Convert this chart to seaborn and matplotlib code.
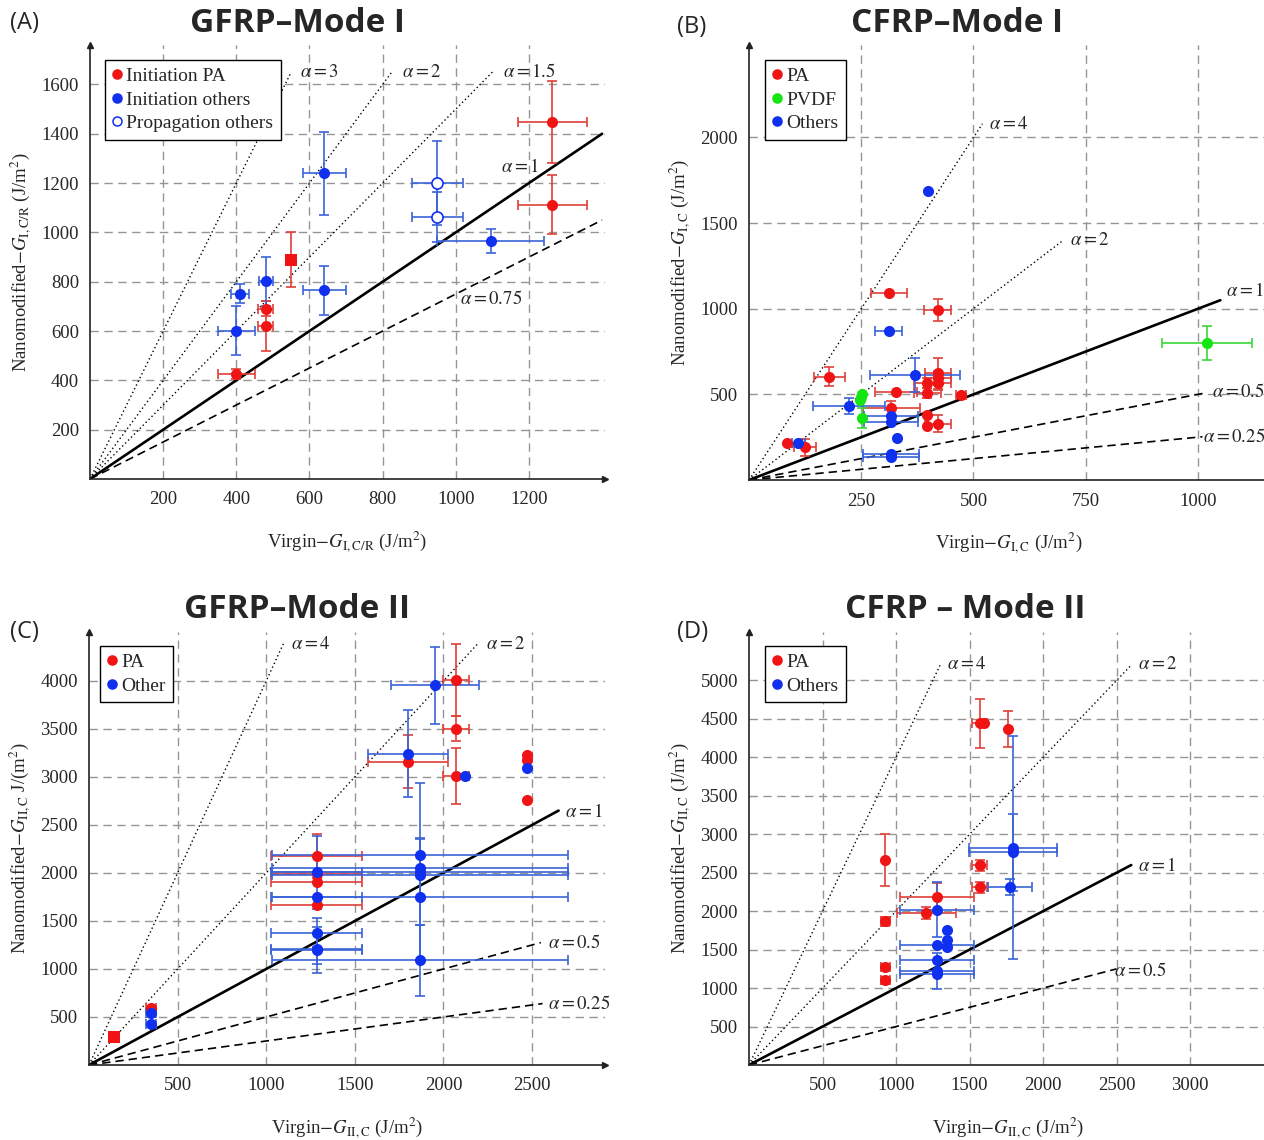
import numpy as np
import matplotlib
matplotlib.use("Agg")
import matplotlib.pyplot as plt
from matplotlib.lines import Line2D
import seaborn as sns

# ---------------- data ----------------
# (A) GFRP - Mode I
a_pa_x = [400, 480, 480, 1264, 1264]
a_pa_y = [425, 690, 620, 1447, 1112]
a_pa_xerr = [50, 20, 20, 95, 95]
a_pa_yerr = [20, 30, 100, 165, 120]
a_pa_sq_x = [550]
a_pa_sq_y = [890]
a_pa_sq_yerr = [110]
a_in_x = [410, 400, 481, 641, 641, 1095]
a_in_y = [751, 601, 801, 1239, 765, 965]
a_in_xerr = [25, 50, 20, 60, 60, 146]
a_in_yerr = [38, 100, 100, 170, 100, 50]
a_pr_x = [950, 950]
a_pr_y = [1200, 1062]
a_pr_xerr = [70, 70]
a_pr_yerr = [170, 100]
a_alpha = [3, 2, 1.5, 1, 0.75]
a_alpha_xend = [550, 825, 1100, 1400, 1400]

# (B) CFRP - Mode I
b_pa_x = [85, 125, 179, 311, 420, 328, 317, 397, 397, 421, 421, 421, 472, 397, 397, 421]
b_pa_y = [215, 191, 604, 1091, 994, 516, 421, 565, 510, 624, 594, 565, 496, 378, 315, 329]
b_pa_xerr = [0, 25, 35, 40, 30, 47, 64, 30, 30, 30, 30, 30, 12, 0, 0, 30]
b_pa_yerr = [0, 50, 55, 0, 65, 0, 40, 30, 30, 90, 40, 40, 0, 0, 0, 50]
b_pv_x = [252, 250, 248, 251, 1021]
b_pv_y = [505, 485, 465, 362, 799]
b_pv_xerr = [0, 0, 0, 0, 100]
b_pv_yerr = [0, 0, 0, 60, 100]
b_ot_x = [110, 223, 311, 398, 370, 317, 317, 330, 317, 317]
b_ot_y = [215, 431, 870, 1687, 614, 372, 339, 244, 152, 136]
b_ot_xerr = [15, 80, 30, 0, 100, 60, 60, 0, 62, 62]
b_ot_yerr = [0, 45, 0, 0, 100, 0, 0, 0, 0, 0]
b_alpha = [4, 2, 1, 0.5, 0.25]
b_alpha_xend = [520, 700, 1050, 1010, 1010]

# (C) GFRP - Mode II
c_pa_sq_x = [142]
c_pa_sq_y = [289]
c_pa_x = [350, 1285, 1285, 1285, 1285, 2071, 2071, 2071, 1801, 2469, 2469, 2469]
c_pa_y = [590, 2178, 1986, 1902, 1662, 4010, 3500, 3007, 3157, 3233, 3174, 2756]
c_pa_xerr = [30, 257, 257, 257, 257, 72, 72, 72, 225, 0, 0, 0]
c_pa_yerr = [20, 230, 0, 0, 0, 370, 130, 290, 275, 0, 0, 0]
c_ot_x = [350, 350, 1285, 1285, 1285, 1285, 1285, 1869, 1869, 1869, 1869, 1869, 1869,
          2120, 1801, 1953, 2469]
c_ot_y = [540, 429, 2010, 1749, 1380, 1213, 1195, 2185, 2052, 2014, 1979, 1753, 1091,
          3007, 3244, 3955, 3094]
c_ot_xerr = [30, 30, 257, 257, 257, 257, 257, 835, 835, 835, 835, 835, 835,
             0, 225, 248, 0]
c_ot_yerr = [0, 0, 380, 0, 150, 160, 240, 180, 300, 920, 0, 300, 370,
             0, 450, 400, 0]
c_alpha = [4, 2, 1, 0.5, 0.25]
c_alpha_xend = [1100, 2200, 2650, 2550, 2560]

# (D) CFRP - Mode II
d_pa_x = [1570, 1595, 1764, 928, 928, 928, 928, 1570, 1570, 1277, 1205]
d_pa_y = [4442, 4450, 4366, 2669, 1869, 1272, 1099, 2595, 2310, 2180, 1972]
d_pa_xerr = [50, 0, 0, 0, 30, 30, 30, 50, 50, 250, 200]
d_pa_yerr = [320, 0, 235, 340, 60, 40, 40, 70, 70, 190, 80]
d_ot_x = [1277, 1345, 1345, 1345, 1277, 1277, 1277, 1277, 1795, 1795, 1773]
d_ot_y = [2020, 1760, 1631, 1531, 1557, 1371, 1220, 1185, 2823, 2766, 2314]
d_ot_xerr = [250, 0, 0, 0, 250, 250, 250, 250, 300, 300, 150]
d_ot_yerr = [360, 0, 0, 0, 0, 0, 230, 0, 1450, 500, 110]
d_alpha = [4, 2, 1, 0.5]
d_alpha_xend = [1300, 2600, 2600, 2500]

# ---------------- style ----------------
sns.set_theme(style="white")
plt.rcParams["font.family"] = ["Liberation Serif", "DejaVu Serif"]
plt.rcParams["mathtext.fontset"] = "stix"
plt.rcParams["font.size"] = 13.5

RED, RED_E = "#f01414", "#e0403a"
BLUE, BLUE_E = "#1030f0", "#3a64d8"
GREEN, GREEN_E = "#14e614", "#3ad83a"

fig = plt.figure(figsize=(12.64, 11.4), dpi=100)
W, H = 1264, 1140


def add_ax(x0, y0, x1, y1):
    return fig.add_axes([x0 / W, 1 - y1 / H, (x1 - x0) / W, (y1 - y0) / H])


def style_ax(ax, xlim, ylim, xticks, yticks, xlabel, ylabel):
    ax.set_xlim(*xlim)
    ax.set_ylim(*ylim)
    ax.set_xticks(xticks)
    ax.set_yticks(yticks)
    ax.grid(True, color="#959595", linestyle=(0, (6, 4)), linewidth=1.0)
    ax.set_axisbelow(True)
    for s in ["top", "right"]:
        ax.spines[s].set_visible(False)
    for s in ["left", "bottom"]:
        ax.spines[s].set_color("#222222")
        ax.spines[s].set_linewidth(1.2)
    ax.plot(1, 0, ">", color="#222222", ms=5, transform=ax.get_yaxis_transform(), clip_on=False)
    ax.plot(0, 1, "^", color="#222222", ms=5, transform=ax.get_xaxis_transform(), clip_on=False)
    ax.tick_params(axis="both", length=0, labelsize=13.5)
    ax.tick_params(axis="x", pad=9)
    ax.tick_params(axis="y", pad=8)
    ax.set_xlabel(xlabel, fontsize=13.5, labelpad=15)
    ax.set_ylabel(ylabel, fontsize=13.5, labelpad=6)


def errs(ax, x, y, xerr, yerr, ecolor):
    x, y, xerr, yerr = map(np.asarray, (x, y, xerr, yerr))
    m = xerr > 0
    if m.any():
        ax.errorbar(x[m], y[m], xerr=xerr[m], fmt="none", ecolor=ecolor,
                    elinewidth=1.2, capsize=3.8, capthick=1.2, zorder=3)
    m = yerr > 0
    if m.any():
        ax.errorbar(x[m], y[m], yerr=yerr[m], fmt="none", ecolor=ecolor,
                    elinewidth=1.2, capsize=3.8, capthick=1.2, zorder=3)


def pts(ax, x, y, color, marker="o", face=None):
    sns.scatterplot(x=x, y=y, ax=ax, color=face or color, marker=marker, s=64,
                    edgecolor=color, linewidth=1.2 if face else 0, zorder=4)


def alpha_lines(ax, alphas, xends, labels):
    for a, xe, lab in zip(alphas, xends, labels):
        if a == 1:
            ls, lw = "-", 1.9
        elif a > 1:
            ls, lw = (0, (1, 2)), 1.0
        else:
            ls, lw = (0, (5, 3)), 1.2
        sns.lineplot(x=[0, xe], y=[0, a * xe], ax=ax, color="black", linestyle=ls,
                     linewidth=lw, sort=False, estimator=None, zorder=2)
        ax.text(lab[0], lab[1], r"$\alpha = %g$" % a, fontsize=13.5, ha="left",
                va="center", zorder=5)


def legend(ax, entries, anchor):
    handles = []
    for lab, c, face in entries:
        handles.append(Line2D([], [], marker="o", linestyle="none", markersize=6.5,
                              markerfacecolor=face, markeredgecolor=c,
                              markeredgewidth=1.1, label=lab))
    lg = ax.legend(handles=handles, loc="upper left", bbox_to_anchor=anchor,
                   frameon=True, fancybox=False, edgecolor="black", framealpha=1,
                   handlelength=0.4, handletextpad=0.3, borderpad=0.4,
                   labelspacing=0.3, borderaxespad=0, fontsize=14)
    lg.get_frame().set_linewidth(1.0)
    lg.set_zorder(10)


# ---------------- (A) ----------------
ax = add_ax(90, 45, 605, 479)
style_ax(ax, (0, 1408), (0, 1760), range(200, 1201, 200), range(200, 1601, 200),
         r"Virgin$-G_{\mathrm{I,C/R}}$ (J/m$^2$)",
         r"Nanomodified$-G_{\mathrm{I,C/R}}$ (J/m$^2$)")
alpha_lines(ax, a_alpha, a_alpha_xend,
            [(573, 1650), (852, 1650), (1129, 1650), (1124, 1265), (1011, 730)])
errs(ax, a_pa_x, a_pa_y, a_pa_xerr, a_pa_yerr, RED_E)
errs(ax, a_pa_sq_x, a_pa_sq_y, [0], a_pa_sq_yerr, RED_E)
errs(ax, a_in_x, a_in_y, a_in_xerr, a_in_yerr, BLUE_E)
errs(ax, a_pr_x, a_pr_y, a_pr_xerr, a_pr_yerr, BLUE_E)
pts(ax, a_pa_x, a_pa_y, RED)
pts(ax, a_pa_sq_x, a_pa_sq_y, RED, marker="s")
pts(ax, a_in_x, a_in_y, BLUE)
pts(ax, a_pr_x, a_pr_y, BLUE, face="white")
legend(ax, [("Initiation PA", RED, RED), ("Initiation others", BLUE, BLUE),
            ("Propagation others", BLUE, "white")], (0.029, 0.966))

# ---------------- (B) ----------------
ax = add_ax(749, 45, 1268, 480)
style_ax(ax, (0, 1156), (0, 2540), [250, 500, 750, 1000], [500, 1000, 1500, 2000],
         r"Virgin$-G_{\mathrm{I,C}}$ (J/m$^2$)",
         r"Nanomodified$-G_{\mathrm{I,C}}$ (J/m$^2$)")
alpha_lines(ax, b_alpha, b_alpha_xend,
            [(535, 2078), (715, 1399), (1062, 1104), (1031, 514), (1012, 254)])
errs(ax, b_pa_x, b_pa_y, b_pa_xerr, b_pa_yerr, RED_E)
errs(ax, b_pv_x, b_pv_y, b_pv_xerr, b_pv_yerr, GREEN_E)
errs(ax, b_ot_x, b_ot_y, b_ot_xerr, b_ot_yerr, BLUE_E)
pts(ax, b_pa_x, b_pa_y, RED)
pts(ax, b_pv_x, b_pv_y, GREEN)
pts(ax, b_ot_x, b_ot_y, BLUE)
legend(ax, [("PA", RED, RED), ("PVDF", GREEN, GREEN), ("Others", BLUE, BLUE)],
       (0.031, 0.966))

# ---------------- (C) ----------------
ax = add_ax(89, 632, 605, 1065)
style_ax(ax, (0, 2912), (0, 4510), range(500, 2501, 500), range(500, 4001, 500),
         r"Virgin$-G_{\mathrm{II,C}}$ (J/m$^2$)",
         r"Nanomodified$-G_{\mathrm{II,C}}$ J/(m$^2$)")
alpha_lines(ax, c_alpha, c_alpha_xend,
            [(1140, 4385), (2240, 4385), (2686, 2635), (2590, 1271), (2590, 635)])
errs(ax, c_pa_x, c_pa_y, c_pa_xerr, c_pa_yerr, RED_E)
errs(ax, c_ot_x, c_ot_y, c_ot_xerr, c_ot_yerr, BLUE_E)
pts(ax, c_pa_sq_x, c_pa_sq_y, RED, marker="s")
pts(ax, c_pa_x, c_pa_y, RED)
pts(ax, c_ot_x, c_ot_y, BLUE)
legend(ax, [("PA", RED, RED), ("Other", BLUE, BLUE)], (0.021, 0.968))

# ---------------- (D) ----------------
ax = add_ax(749, 632, 1268, 1065)
style_ax(ax, (0, 3530), (0, 5630), range(500, 3001, 500), range(500, 5001, 500),
         r"Virgin$-G_{\mathrm{II,C}}$ (J/m$^2$)",
         r"Nanomodified$-G_{\mathrm{II,C}}$ (J/m$^2$)")
alpha_lines(ax, d_alpha, d_alpha_xend,
            [(1345, 5201), (2645, 5201), (2645, 2588), (2480, 1222)])
errs(ax, d_pa_x, d_pa_y, d_pa_xerr, d_pa_yerr, RED_E)
errs(ax, d_ot_x, d_ot_y, d_ot_xerr, d_ot_yerr, BLUE_E)
pts(ax, d_pa_x, d_pa_y, RED)
pts(ax, d_ot_x, d_ot_y, BLUE)
legend(ax, [("PA", RED, RED), ("Others", BLUE, BLUE)], (0.031, 0.968))

# ---------------- titles / panel letters ----------------
tkw = dict(family=["Open Sans", "DejaVu Sans"], fontweight="bold", fontsize=24,
           ha="center", va="center")
fig.text(297 / W, 1 - 23 / H, "GFRP–Mode I", **tkw)
fig.text(957 / W, 1 - 23 / H, "CFRP–Mode I", **tkw)
fig.text(297 / W, 1 - 609 / H, "GFRP–Mode II", **tkw)
fig.text(965 / W, 1 - 609 / H, "CFRP – Mode II", **tkw)
lkw = dict(family=["Open Sans", "DejaVu Sans"], fontsize=17, ha="left", va="center")
fig.text(10 / W, 1 - 23 / H, "(A)", **lkw)
fig.text(677 / W, 1 - 27 / H, "(B)", **lkw)
fig.text(10 / W, 1 - 632 / H, "(C)", **lkw)
fig.text(677 / W, 1 - 632 / H, "(D)", **lkw)

fig.savefig("out.png", dpi=100)
